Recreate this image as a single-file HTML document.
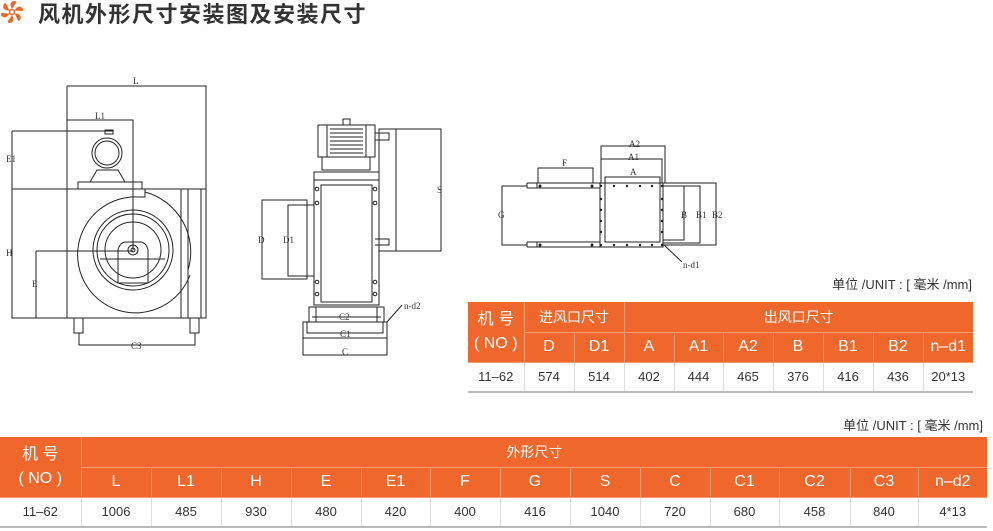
<!DOCTYPE html>
<html><head><meta charset="utf-8"><style>
body{margin:0;width:993px;height:531px;background:#fff;position:relative;overflow:hidden;font-family:"Liberation Sans","Noto Sans CJK SC",sans-serif;}
.t{position:absolute;left:38px;top:0px;font-size:22px;font-weight:bold;color:#333;letter-spacing:1.5px;font-family:"Noto Sans CJK SC","WenQuanYi Zen Hei",sans-serif;line-height:27px;}
.u{position:absolute;font-size:13px;color:#333;font-family:"Liberation Sans","Noto Sans CJK SC",sans-serif;}
table{position:absolute;border-collapse:collapse;table-layout:fixed;}
td{text-align:center;padding:0;font-size:14px;color:#fff;}
.h td{background:#ef672b;border-left:1px solid #f49a70;border-bottom:1px solid #f49a70;}
.d td{color:#333;border-left:1px solid #ddd;border-bottom:2px solid #bbb;font-size:13px;}
.big{font-size:16px}
</style></head><body>
<svg width="26" height="26" style="position:absolute;left:0;top:0" viewBox="0 0 26 26">
<g fill="#ef672b" transform="translate(12,12)">
<path d="M0,-3 C3,-8 6,-10 3,-11 C-1,-11 -3,-8 0,-3Z"/>
<path d="M0,-3 C3,-8 6,-10 3,-11 C-1,-11 -3,-8 0,-3Z" transform="rotate(60)"/>
<path d="M0,-3 C3,-8 6,-10 3,-11 C-1,-11 -3,-8 0,-3Z" transform="rotate(120)"/>
<path d="M0,-3 C3,-8 6,-10 3,-11 C-1,-11 -3,-8 0,-3Z" transform="rotate(180)"/>
<path d="M0,-3 C3,-8 6,-10 3,-11 C-1,-11 -3,-8 0,-3Z" transform="rotate(240)"/>
<path d="M0,-3 C3,-8 6,-10 3,-11 C-1,-11 -3,-8 0,-3Z" transform="rotate(300)"/>
<circle r="2.5" fill="none" stroke="#ef672b" stroke-width="1.5"/></g></svg>
<div class="t">风机外形尺寸安装图及安装尺寸</div>

<svg width="993" height="531" style="position:absolute;left:0;top:0" fill="none" stroke="#222" stroke-width="1" font-family="Liberation Serif" font-size="9">
<path d="M67,86H206V189M67,86V318M67,120H133V250M12,131H113V134M12,131V318H206V189H12M181,189V318M188,189V318M201,189V318"/>
<path d="M36,251H133M36,251V318"/>
<circle cx="107" cy="153" r="15"/><circle cx="107" cy="153" r="12"/>
<rect x="105" y="130" width="8" height="4"/>
<path d="M90,182L97,170H118L125,182M78,182H142V189H78Z"/>
<path d="M145,189V197H140 A58,58 0 1 0 190,275"/>
<path d="M145,192 A62,62 0 0 1 188,270"/>
<circle cx="133" cy="250" r="40"/><circle cx="133" cy="250" r="36"/><circle cx="133" cy="250" r="28"/>
<circle cx="133" cy="250" r="5"/><circle cx="133" cy="250" r="2"/>
<path d="M100,259H165M118,259V283H148V259M118,259V250Q120,242 126,242H140Q146,242 148,250V259"/>
<rect x="74" y="318" width="9" height="15"/><rect x="190" y="318" width="9" height="15"/>
<path d="M79,333V345H195V333"/>
<g fill="#333" stroke="none"><text x="133" y="84">L</text><text x="95" y="119">L1</text><text x="6" y="162">E1</text><text x="6" y="256">H</text><text x="32" y="287">E</text><text x="131" y="349">C3</text></g>
<rect x="318" y="125" width="57" height="32"/><rect x="343" y="119" width="7" height="6"/>
<path d="M327,125V157M366,125V157M330,129H363M330,133H363M330,137H363M330,141H363M330,145H363M330,149H363M330,153H363"/>
<path d="M322,157V170H370V157M375,133H389V140H375M375,239H389V245H375"/>
<rect x="314" y="172" width="65" height="133"/><path d="M314,180H379"/>
<rect x="321" y="185" width="51" height="117"/>
<rect x="379" y="129" width="62" height="122"/><path d="M396,129V251"/>
<rect x="262" y="200" width="45" height="79"/><path d="M307,205H288V276H307M307,205H314M307,276H314"/>
<g fill="#fff"><circle cx="317" cy="189" r="1.8"/><circle cx="317" cy="203" r="1.8"/><circle cx="317" cy="282" r="1.8"/><circle cx="317" cy="294" r="1.8"/><circle cx="375" cy="189" r="1.8"/><circle cx="375" cy="203" r="1.8"/><circle cx="375" cy="282" r="1.8"/><circle cx="375" cy="294" r="1.8"/></g>
<path d="M309,307H384V322H309ZM312,317H381M316,307V322M377,307V322"/>
<rect x="303" y="322" width="84" height="16"/><path d="M307,322V333H383V322"/>
<path d="M303,338V355H387V338M387,322L402,305"/>
<g fill="#333" stroke="none"><text x="437" y="193">S</text><text x="258" y="243">D</text><text x="283" y="243">D1</text><text x="339" y="320">C2</text><text x="340" y="337">C1</text><text x="342" y="355">C</text><text x="404" y="309">n-d2</text></g>
<path d="M527,186H502V245H527"/>
<path d="M527,183H600M527,188H600M527,242H600M527,247H600M527,183V188M527,242V247M537,183V188M537,242V247"/>
<rect x="600" y="183" width="63" height="64"/>
<rect x="605" y="177" width="55" height="65"/>
<path d="M538,183V168H593V183M601,183V159H662V183M601,159V146H665V183"/>
<path d="M663,186H684V240H663M663,186H700V243H663M663,183H716V245H663M664,245L682,262"/>
<g fill="#222" stroke="none"><circle cx="540" cy="186" r="1.5"/><circle cx="592" cy="186" r="1.5"/><circle cx="540" cy="245" r="1.5"/><circle cx="592" cy="245" r="1.5"/><circle cx="601" cy="186" r="1.2"/><circle cx="614" cy="186" r="1.2"/><circle cx="627" cy="186" r="1.2"/><circle cx="640" cy="186" r="1.2"/><circle cx="652" cy="186" r="1.2"/><circle cx="662" cy="186" r="1.2"/><circle cx="601" cy="245" r="1.2"/><circle cx="614" cy="245" r="1.2"/><circle cx="627" cy="245" r="1.2"/><circle cx="640" cy="245" r="1.2"/><circle cx="652" cy="245" r="1.2"/><circle cx="662" cy="245" r="1.2"/><circle cx="601" cy="199" r="1.2"/><circle cx="601" cy="210" r="1.2"/><circle cx="601" cy="221" r="1.2"/><circle cx="601" cy="232" r="1.2"/><circle cx="662" cy="199" r="1.2"/><circle cx="662" cy="210" r="1.2"/><circle cx="662" cy="221" r="1.2"/><circle cx="662" cy="232" r="1.2"/></g>
<g fill="#333" stroke="none"><text x="562" y="166">F</text><text x="629" y="147">A2</text><text x="628" y="160">A1</text><text x="630" y="175">A</text><text x="498" y="218">G</text><text x="681" y="218">B</text><text x="696" y="218">B1</text><text x="712" y="218">B2</text><text x="683" y="268">n-d1</text></g>
</svg>

<div class="u" style="right:21px;top:274px;">单位 /UNIT : [ 毫米 /mm]</div>
<table style="left:468px;top:302px;width:505px;">
<colgroup><col style="width:56px"><col style="width:50px"><col style="width:50px"><col style="width:50px"><col style="width:49px"><col style="width:50px"><col style="width:50px"><col style="width:50px"><col style="width:50px"><col style="width:50px"></colgroup>
<tr class="h" style="height:30px"><td rowspan="2" class="big" style="border-left:none;line-height:24px">机 号<br>( NO )</td><td colspan="2">进风口尺寸</td><td colspan="7">出风口尺寸</td></tr>
<tr class="h" style="height:30px"><td class="big">D</td><td class="big">D1</td><td class="big">A</td><td class="big">A1</td><td class="big">A2</td><td class="big">B</td><td class="big">B1</td><td class="big">B2</td><td class="big">n–d1</td></tr>
<tr class="d" style="height:30px"><td style="border-left:none">11–62</td><td>574</td><td>514</td><td>402</td><td>444</td><td>465</td><td>376</td><td>416</td><td>436</td><td>20*13</td></tr>
</table>

<div class="u" style="right:10px;top:415px;">单位 /UNIT : [ 毫米 /mm]</div>
<table style="left:0;top:437px;width:987px;">
<colgroup><col style="width:81px"><col style="width:70px"><col style="width:70px"><col style="width:70px"><col style="width:70px"><col style="width:69px"><col style="width:70px"><col style="width:70px"><col style="width:70px"><col style="width:70px"><col style="width:69px"><col style="width:71px"><col style="width:68px"><col style="width:69px"></colgroup>
<tr class="h" style="height:30px"><td rowspan="2" class="big" style="border-left:none;line-height:24px">机 号<br>( NO )</td><td colspan="13">外形尺寸</td></tr>
<tr class="h" style="height:30px"><td class="big">L</td><td class="big">L1</td><td class="big">H</td><td class="big">E</td><td class="big">E1</td><td class="big">F</td><td class="big">G</td><td class="big">S</td><td class="big">C</td><td class="big">C1</td><td class="big">C2</td><td class="big">C3</td><td class="big">n–d2</td></tr>
<tr class="d" style="height:30px"><td style="border-left:none">11–62</td><td>1006</td><td>485</td><td>930</td><td>480</td><td>420</td><td>400</td><td>416</td><td>1040</td><td>720</td><td>680</td><td>458</td><td>840</td><td>4*13</td></tr>
</table>
</body></html>
